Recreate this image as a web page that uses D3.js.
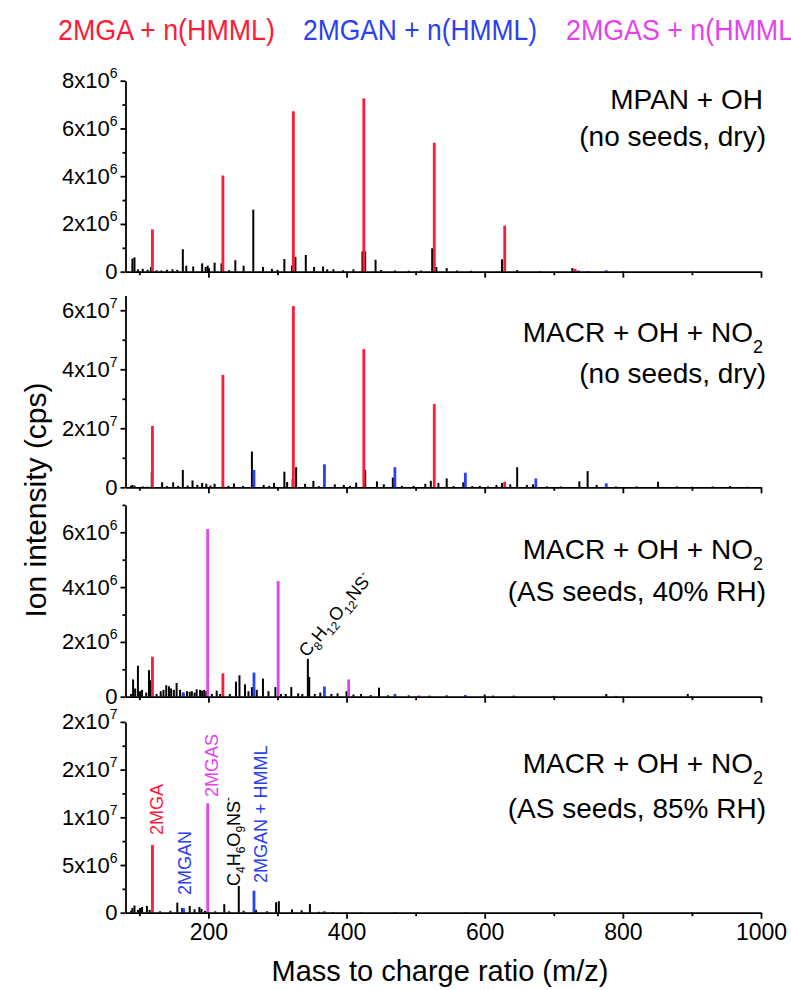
<!DOCTYPE html>
<html>
<head>
<meta charset="utf-8">
<script src="https://cdn.jsdelivr.net/npm/d3@7"></script>
<style>
  body { margin: 0; background: #fff; }
  text { font-family: "Liberation Sans", Arial, sans-serif; }
</style>
</head>
<body>
<div id="chart"></div>
<script>
// peak lists: [m/z, intensity (cps)]
const p1Black = [[90,0.55e6],[93,0.6e6],[98,0.1e6],[105,0.12e6],[112,0.08e6],[117,0.2e6],[125,0.06e6],[132,0.05e6],[140,0.08e6],[148,0.1e6],[155,0.08e6],[163,0.94e6],[168,0.25e6],[178,0.22e6],[191,0.35e6],[196,0.2e6],[199,0.25e6],[201,0.15e6],[209,0.38e6],[219,0.35e6],[230,0.06e6],[239,0.48e6],[251,0.25e6],[265,2.6e6],[279,0.2e6],[292,0.12e6],[300,0.08e6],[310,0.53e6],[321,0.25e6],[326,0.62e6],[341,0.7e6],[353,0.2e6],[366,0.22e6],[372,0.1e6],[381,0.1e6],[395,0.06e6],[410,0.1e6],[423,0.85e6],[427,0.85e6],[442,0.5e6],[450,0.07e6],[470,0.05e6],[490,0.04e6],[508,0.05e6],[524,0.98e6],[530,0.2e6],[545,0.15e6],[560,0.05e6],[580,0.04e6],[625,0.52e6],[647,0.07e6],[680,0.03e6],[727,0.15e6]];
const p1Red = [[119,1.77e6],[221,4.03e6],[323,6.72e6],[425,7.26e6],[527,5.4e6],[629,1.93e6],[731,0.12e6]];
const p1Blue = [[736,0.05e6],[750,0.03e6],[776,0.06e6],[800,0.02e6]];
const p1Magenta = [];

const p2Black = [[88,0.5e6],[90,0.8e6],[93,0.6e6],[105,0.3e6],[112,0.2e6],[118,5.3e6],[133,1.7e6],[140,0.4e6],[149,1.7e6],[156,0.5e6],[163,5.9e6],[170,0.6e6],[177,2.3e6],[184,0.8e6],[191,1.5e6],[197,1.2e6],[203,0.6e6],[209,1.2e6],[221,2.0e6],[229,0.5e6],[237,1.3e6],[250,0.5e6],[263,12.1e6],[280,0.8e6],[288,0.5e6],[295,1.5e6],[310,5.3e6],[314,1.8e6],[322,2.8e6],[327,6.8e6],[340,1.2e6],[352,2.2e6],[360,0.4e6],[383,1.0e6],[396,0.8e6],[405,0.5e6],[414,1.6e6],[427,5.9e6],[444,2.0e6],[454,1.0e6],[467,3.3e6],[480,0.5e6],[497,0.5e6],[514,1.2e6],[522,2.2e6],[533,1.5e6],[545,3.0e6],[555,0.4e6],[569,1.7e6],[582,0.4e6],[593,0.5e6],[605,0.3e6],[617,0.8e6],[625,1.5e6],[637,1.0e6],[647,6.8e6],[661,0.8e6],[670,1.0e6],[690,0.3e6],[710,0.3e6],[737,2.0e6],[749,5.5e6],[762,0.8e6],[790,0.3e6],[820,0.3e6],[851,1.9e6],[878,0.3e6],[900,0.2e6],[930,0.3e6],[955,0.4e6],[980,0.2e6]];
const p2Red = [[119,20.8e6],[221,38.1e6],[323,61.4e6],[425,46.8e6],[527,28.2e6],[629,1.9e6]];
const p2Blue = [[266,5.9e6],[368,7.8e6],[470,6.8e6],[572,4.95e6],[674,3.0e6],[776,1.35e6]];
const p2Magenta = [];

const p3Black = [[88,0.1e6],[91,0.63e6],[94,0.3e6],[98,1.13e6],[101,0.2e6],[104,0.25e6],[110,0.15e6],[114,0.97e6],[116,0.6e6],[125,0.1e6],[131,0.2e6],[135,0.25e6],[139,0.42e6],[143,0.38e6],[146,0.3e6],[150,0.25e6],[154,0.5e6],[159,0.25e6],[163,0.15e6],[169,0.2e6],[173,0.18e6],[176,0.2e6],[180,0.15e6],[183,0.27e6],[188,0.25e6],[191,0.22e6],[194,0.25e6],[197,0.2e6],[205,0.1e6],[212,0.22e6],[217,0.1e6],[231,0.1e6],[240,0.55e6],[245,0.78e6],[253,0.45e6],[258,0.2e6],[263,0.35e6],[270,0.25e6],[279,0.66e6],[287,0.2e6],[297,0.35e6],[305,0.1e6],[312,0.1e6],[320,0.35e6],[330,0.12e6],[336,0.1e6],[344,1.38e6],[346,0.72e6],[354,0.1e6],[362,0.15e6],[378,0.1e6],[387,0.12e6],[400,0.2e6],[410,0.08e6],[421,0.1e6],[435,0.06e6],[447,0.33e6],[460,0.05e6],[490,0.05e6],[520,0.04e6],[545,0.05e6],[600,0.08e6],[612,0.04e6],[642,0.04e6],[700,0.03e6],[776,0.1e6],[790,0.03e6],[894,0.1e6]];
const p3Red = [[119,1.46e6],[221,0.85e6]];
const p3Blue = [[164,0.15e6],[266,0.88e6],[368,0.37e6],[470,0.1e6],[572,0.06e6]];
const p3Magenta = [[199,6.12e6],[301,4.22e6],[403,0.63e6],[505,0.05e6]];

const p4Black = [[88,0.2e6],[90,0.5e6],[93,0.75e6],[98,0.3e6],[101,0.5e6],[104,0.6e6],[111,0.7e6],[115,0.3e6],[130,0.15e6],[145,0.2e6],[155,1.05e6],[162,0.5e6],[173,0.7e6],[180,0.35e6],[187,0.6e6],[190,0.4e6],[195,0.2e6],[210,0.15e6],[223,0.9e6],[230,0.15e6],[244,2.8e6],[251,0.2e6],[269,0.3e6],[285,0.15e6],[298,1.1e6],[302,1.2e6],[321,0.35e6],[335,0.25e6],[347,0.9e6],[360,0.1e6],[380,0.08e6],[420,0.05e6]];
const p4Red = [[119,7.1e6]];
const p4Blue = [[164,0.46e6],[266,2.3e6],[368,0.15e6],[400,0.06e6],[470,0.06e6],[572,0.05e6]];
const p4Magenta = [[199,11.47e6]];

// y ticks per panel
const p1Ticks = [0, 2e6, 4e6, 6e6, 8e6];
const p1TickLabels = ["0", "2x10^6", "4x10^6", "6x10^6", "8x10^6"];
const p1Minor = [1e6, 3e6, 5e6, 7e6];
const p2Ticks = [0, 2e7, 4e7, 6e7];
const p2TickLabels = ["0", "2x10^7", "4x10^7", "6x10^7"];
const p2Minor = [1e7, 3e7, 5e7];
const p3Ticks = [0, 2e6, 4e6, 6e6];
const p3TickLabels = ["0", "2x10^6", "4x10^6", "6x10^6"];
const p3Minor = [1e6, 3e6, 5e6, 7e6];
const p4Ticks = [0, 5e6, 1e7, 1.5e7, 2e7];
const p4TickLabels = ["0", "5x10^6", "1x10^7", "2x10^7", "2x10^7"];
const p4Minor = [2.5e6, 7.5e6, 1.25e7, 1.75e7];

const xTicks = [200, 400, 600, 800, 1000];
const xMinor = [100, 300, 500, 700, 900];

const legendLabels = ["2MGA + n(HMML)", "2MGAN + n(HMML)", "2MGAS + n(HMML)"];

const colors = {black: "#000", red: "#ff1a38", blue: "#2b40f2", magenta: "#e442ee"};

const W = 791, H = 990;
const svg = d3.select("#chart").append("svg")
  .attr("width", W).attr("height", H)
  .style("background", "#fff");

const x = d3.scaleLinear().domain([80, 1000]).range([125.5, 761]);

const panels = [
  {black: p1Black, red: p1Red, blue: p1Blue, magenta: p1Magenta, max: 8e6, y0: 271.7, y1: 80.7,
   ticks: p1Ticks, labels: p1TickLabels, minor: p1Minor,
   title: ["MPAN + OH", "(no seeds, dry)"], ty: [109, 146]},
  {black: p2Black, red: p2Red, blue: p2Blue, magenta: p2Magenta, max: 6.5e7, y0: 487.3, y1: 295.5,
   ticks: p2Ticks, labels: p2TickLabels, minor: p2Minor,
   title: ["MACR + OH + NO", "(no seeds, dry)"], ty: [342, 383]},
  {black: p3Black, red: p3Red, blue: p3Blue, magenta: p3Magenta, max: 7e6, y0: 696.7, y1: 504.9,
   ticks: p3Ticks, labels: p3TickLabels, minor: p3Minor,
   title: ["MACR + OH + NO", "(AS seeds, 40% RH)"], ty: [559, 601]},
  {black: p4Black, red: p4Red, blue: p4Blue, magenta: p4Magenta, max: 2e7, y0: 912.7, y1: 721.9,
   ticks: p4Ticks, labels: p4TickLabels, minor: p4Minor,
   title: ["MACR + OH + NO", "(AS seeds, 85% RH)"], ty: [773, 818]}
];

// turn "2x10^6" into text with a superscript
function supText(t, s) {
  const parts = s.split("^");
  t.text(null);
  t.append("tspan").text(parts[0]);
  if (parts.length > 1)
    t.append("tspan").attr("dy", -10).attr("font-size", 14).text(parts[1]);
}

panels.forEach((p, pi) => {
  const y = d3.scaleLinear().domain([0, p.max]).range([p.y0, p.y1]);
  const g = svg.append("g");

  // peaks, black first then the coloured series on top
  ["black", "red", "blue", "magenta"].forEach(key => {
    g.selectAll(".pk-" + key)
      .data(p[key])
      .enter().append("line")
      .attr("x1", d => x(d[0])).attr("x2", d => x(d[0]))
      .attr("y1", y(0)).attr("y2", d => y(d[1]))
      .attr("stroke", colors[key])
      .attr("stroke-width", key === "black" ? 2 : 2.8);
  });

  // y axis
  const ya = g.append("g").attr("transform", `translate(${x(80)},0)`)
    .call(d3.axisLeft(y).tickValues(p.ticks).tickSize(5).tickSizeOuter(0).tickPadding(3)
      .tickFormat((d, i) => p.labels[i]));
  ya.selectAll(".tick text").each(function(d, i) {
    supText(d3.select(this), p.labels[i]);
  });
  ya.selectAll("text").attr("font-size", 22).attr("font-family", "Liberation Sans, Arial, sans-serif");
  g.append("g").attr("transform", `translate(${x(80)},0)`)
    .call(d3.axisLeft(y).tickValues(p.minor).tickSize(3).tickSizeOuter(0).tickFormat(""))
    .select(".domain").remove();

  // x axis
  const last = pi === panels.length - 1;
  const xa = g.append("g").attr("transform", `translate(0,${p.y0})`)
    .call(d3.axisBottom(x).tickValues(xTicks).tickSize(6).tickSizeOuter(0).tickPadding(5)
      .tickFormat(last ? d3.format("d") : ""));
  xa.selectAll("text").attr("font-size", 23).attr("font-family", "Liberation Sans, Arial, sans-serif");
  g.append("g").attr("transform", `translate(0,${p.y0})`)
    .call(d3.axisBottom(x).tickValues(xMinor).tickSize(3.5).tickSizeOuter(0).tickFormat(""))
    .select(".domain").remove();

  g.selectAll(".domain, .tick line").attr("stroke", "#000").attr("stroke-width", 1.8);
  g.selectAll(".tick text").attr("fill", "#000");

  // condition labels, upper right
  const t1 = g.append("text").attr("x", 763).attr("y", p.ty[0])
    .attr("text-anchor", "end").attr("font-size", 28);
  t1.append("tspan").text(p.title[0]);
  if (pi > 0) t1.append("tspan").attr("dy", 11).attr("font-size", 18).text("2");
  g.append("text").attr("x", 766).attr("y", p.ty[1])
    .attr("text-anchor", "end").attr("font-size", 28).text(p.title[1]);
});

// legend across the top
const legendX = [58, 303, 566];
const legendW = [217, 234, 236];
legendLabels.forEach((s, i) => {
  svg.append("text")
    .attr("x", legendX[i]).attr("y", 40)
    .attr("font-size", 30)
    .attr("textLength", legendW[i]).attr("lengthAdjust", "spacingAndGlyphs")
    .attr("fill", [colors.red, colors.blue, colors.magenta][i])
    .text(s);
});

// formula label in panel 3
const f3 = svg.append("text")
  .attr("transform", "translate(307,658) rotate(-50)")
  .attr("font-size", 18);
[["C",0],["8",1],["H",0],["12",1],["O",0],["12",1],["NS",0],["-",2]].forEach(function(d, i, arr) {
  const prev = i > 0 ? arr[i - 1][1] : 0;
  const shift = {0: 0, 1: 5, 2: -8};
  f3.append("tspan")
    .attr("dy", shift[d[1]] - shift[prev])
    .attr("font-size", d[1] ? 12 : 18)
    .text(d[0]);
});

// vertical labels in panel 4
function vlabel(tx, ty, color, parts) {
  const t = svg.append("text")
    .attr("transform", `translate(${tx},${ty}) rotate(-90)`)
    .attr("font-size", 18).attr("fill", color);
  let prev = 0;
  const shift = {0: 0, 1: 5, 2: -8};
  parts.forEach(d => {
    t.append("tspan").attr("dy", shift[d[1]] - shift[prev])
      .attr("font-size", d[1] ? 12 : 18).text(d[0]);
    prev = d[1];
  });
}
vlabel(163, 835, colors.red, [["2MGA", 0]]);
vlabel(191, 895, colors.blue, [["2MGAN", 0]]);
vlabel(218, 797, colors.magenta, [["2MGAS", 0]]);
vlabel(240, 886, "#000", [["C",0],["4",1],["H",0],["6",1],["O",0],["9",1],["NS",0],["-",2]]);
vlabel(266.5, 883, colors.blue, [["2MGAN + HMML", 0]]);

// axis titles
svg.append("text")
  .attr("x", 440).attr("y", 981)
  .attr("text-anchor", "middle").attr("font-size", 29)
  .text("Mass to charge ratio (m/z)");
svg.append("text")
  .attr("transform", "translate(46,500) rotate(-90)")
  .attr("text-anchor", "middle").attr("font-size", 30)
  .text("Ion intensity (cps)");
</script>
</body>
</html>
